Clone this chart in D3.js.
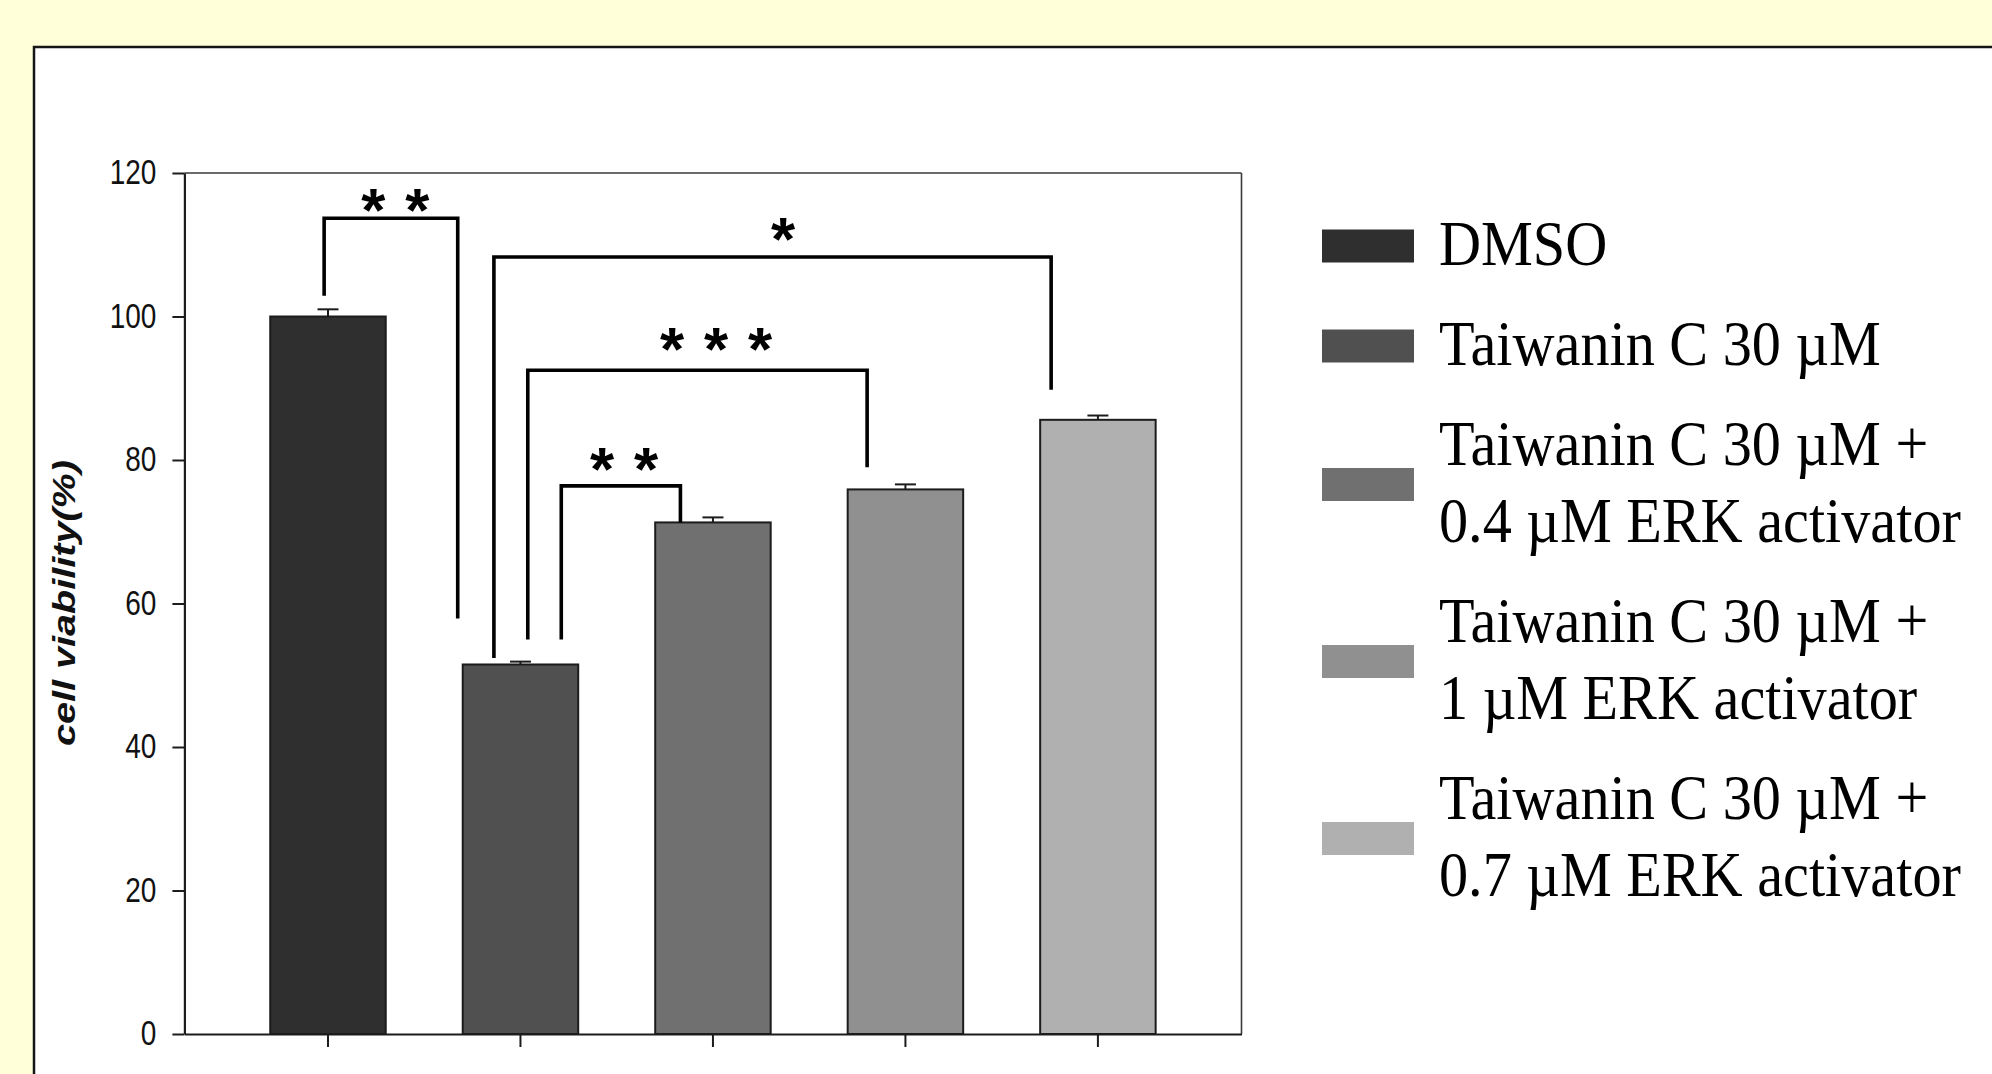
<!DOCTYPE html>
<html>
<head>
<meta charset="utf-8">
<script src="https://cdn.jsdelivr.net/npm/d3@7"></script>
<style>
  body { margin: 0; background: #ffffda; }
  svg { display: block; }
</style>
</head>
<body>
<div id="chart"></div>
<script>

// data
var groups = ["DMSO", "TC30", "TC30+ERK0.4", "TC30+ERK1", "TC30+ERK0.7"];
var viability = [100, 51.5, 71.3, 75.9, 85.6];
var errors = [1.0, 0.4, 0.7, 0.7, 0.6];
var yTicks = [0, 20, 40, 60, 80, 100, 120];

var legendLines = [
    ["DMSO"],
    ["Taiwanin C 30 µM"],
    ["Taiwanin C 30 µM +", "0.4 µM ERK activator"],
    ["Taiwanin C 30 µM +", "1 µM ERK activator"],
    ["Taiwanin C 30 µM +", "0.7 µM ERK activator"]
];

// significance brackets, x in category units (0 = first bar centre), y in % viability
var bracketFrom = [-0.02, 0.862, 1.038, 1.212];
var bracketTo = [0.674, 3.757, 2.801, 1.831];
var bracketTop = [113.7, 108.3, 92.5, 76.4];
var bracketFromEnd = [102.9, 52.4, 55.0, 55.0];
var bracketToEnd = [57.9, 89.8, 79.0, 71.3];
var bracketStars = [2, 1, 3, 2];
var starAt = [0.35, 2.364, 2.016, 1.538];
var starLevel = [116.0, 112.0, 96.7, 80.0];

var width = 1992, height = 1074;
var plot = { left: 184.4, right: 1241.5, top: 173, bottom: 1034 };

var svg = d3.select("#chart").append("svg")
    .attr("width", width)
    .attr("height", height);

// shrink text horizontally, the figure is squeezed
function squeeze(sel, k) {
    sel.each(function() {
        var w = this.getComputedTextLength();
        d3.select(this).attr("textLength", w * k).attr("lengthAdjust", "spacingAndGlyphs");
    });
}

// white panel with its left and top border
svg.append("rect")
    .attr("x", 34)
    .attr("y", 47)
    .attr("width", width)
    .attr("height", height)
    .attr("fill", "#ffffff")
    .attr("stroke", "#151515")
    .attr("stroke-width", 2.5);

// scales
var x = d3.scaleBand()
    .domain(groups)
    .range([plot.left, plot.right])
    .paddingInner(0.4)
    .paddingOuter(0.446);

var y = d3.scaleLinear()
    .domain([0, 120])
    .range([plot.bottom, plot.top]);

var color = d3.scaleOrdinal()
    .domain(groups)
    .range(["#2f2f2f", "#505050", "#707070", "#909090", "#b0b0b0"]);

var bw = x.bandwidth();
var xc = d3.scaleLinear()
    .domain([0, groups.length - 1])
    .range([x(groups[0]) + bw / 2, x(groups[groups.length - 1]) + bw / 2]);

// top and right frame of the plot
svg.append("line")
    .attr("x1", plot.left).attr("x2", plot.right)
    .attr("y1", y(120)).attr("y2", y(120))
    .attr("stroke", "#3a3a3a").attr("stroke-width", 1.6);
svg.append("line")
    .attr("x1", plot.right).attr("x2", plot.right)
    .attr("y1", y(120)).attr("y2", y(0))
    .attr("stroke", "#3a3a3a").attr("stroke-width", 1.6);

// bars
var dataset = groups.map(function(g, i) {
    return { group: g, value: viability[i], err: errors[i] };
});

svg.selectAll(".bar")
    .data(dataset).enter().append("rect")
    .attr("class", "bar")
    .attr("x", function(d) { return x(d.group); })
    .attr("y", function(d) { return y(d.value); })
    .attr("width", bw)
    .attr("height", function(d) { return y(0) - y(d.value); })
    .attr("fill", function(d) { return color(d.group); })
    .attr("stroke", "#1c1c1c")
    .attr("stroke-width", 2);

// error bars (upper half only)
var errG = svg.selectAll(".err")
    .data(dataset).enter().append("g")
    .attr("class", "err")
    .attr("stroke", "#1c1c1c")
    .attr("stroke-width", 2);

errG.append("line")
    .attr("x1", function(d) { return x(d.group) + bw / 2; })
    .attr("x2", function(d) { return x(d.group) + bw / 2; })
    .attr("y1", function(d) { return y(d.value); })
    .attr("y2", function(d) { return y(d.value + d.err); });

errG.append("line")
    .attr("x1", function(d) { return x(d.group) + bw / 2 - 10.5; })
    .attr("x2", function(d) { return x(d.group) + bw / 2 + 10.5; })
    .attr("y1", function(d) { return y(d.value + d.err); })
    .attr("y2", function(d) { return y(d.value + d.err); });

// y axis
var yAxis = d3.axisLeft(y)
    .tickValues(yTicks)
    .tickSize(12)
    .tickSizeOuter(0)
    .tickPadding(16);

var gy = svg.append("g")
    .attr("transform", "translate(" + [plot.left, 0] + ")")
    .call(yAxis);

gy.select(".domain").attr("stroke", "#1c1c1c").attr("stroke-width", 2.2);
gy.selectAll(".tick line").attr("stroke", "#1c1c1c").attr("stroke-width", 2);
gy.selectAll(".tick text")
    .attr("font-family", "'Liberation Sans', Arial, sans-serif")
    .attr("font-size", 35)
    .attr("fill", "#111")
    .attr("dy", "0.3em")
    .call(squeeze, 0.8);

// x axis, ticks only
var xAxis = d3.axisBottom(x)
    .tickSize(13)
    .tickSizeOuter(0)
    .tickFormat("");

var gx = svg.append("g")
    .attr("transform", "translate(" + [0, plot.bottom] + ")")
    .call(xAxis);

gx.select(".domain").attr("stroke", "#1c1c1c").attr("stroke-width", 2.2);
gx.selectAll(".tick line").attr("stroke", "#1c1c1c").attr("stroke-width", 2);

// y axis label
svg.append("text")
    .attr("transform", "translate(" + [75, 603] + ") rotate(-90)")
    .attr("text-anchor", "middle")
    .attr("font-family", "'Liberation Sans', Arial, sans-serif")
    .attr("font-size", 31)
    .attr("font-weight", "bold")
    .attr("font-style", "italic")
    .attr("fill", "#111")
    .attr("textLength", 286)
    .attr("lengthAdjust", "spacingAndGlyphs")
    .text("cell viability(%)");

// significance brackets
var brackets = bracketFrom.map(function(f, i) {
    return {
        from: f, to: bracketTo[i], top: bracketTop[i],
        fromEnd: bracketFromEnd[i], toEnd: bracketToEnd[i],
        stars: bracketStars[i], starAt: starAt[i], starLevel: starLevel[i]
    };
});

svg.selectAll(".bracket")
    .data(brackets).enter().append("path")
    .attr("class", "bracket")
    .attr("fill", "none")
    .attr("stroke", "#000")
    .attr("stroke-width", 3.6)
    .attr("d", function(d) {
        return "M" + xc(d.from) + "," + y(d.fromEnd) +
            "V" + y(d.top) +
            "H" + xc(d.to) +
            "V" + y(d.toEnd);
    });

var starSize = 62, starGap = 44;
var starData = [];
brackets.forEach(function(b) {
    for (var k = 0; k < b.stars; k++) {
        starData.push({ x: xc(b.starAt) + (k - (b.stars - 1) / 2) * starGap, y: y(b.starLevel) });
    }
});

svg.selectAll(".star")
    .data(starData).enter().append("text")
    .attr("class", "star")
    .attr("x", function(d) { return d.x; })
    .attr("y", function(d) { return d.y + starSize * 0.48; })
    .attr("text-anchor", "middle")
    .attr("font-family", "'Liberation Sans', Arial, sans-serif")
    .attr("font-weight", "bold")
    .attr("font-size", starSize)
    .attr("fill", "#000")
    .text("*");

// legend, squeezed horizontally like the rest of the figure
var lineStep = 77, entryStep = 100;
var legend = svg.append("g")
    .attr("transform", "translate(1439,0) scale(0.91,1)")
    .attr("font-family", "'Liberation Serif', 'Times New Roman', serif")
    .attr("font-size", 64)
    .attr("fill", "#000");

var baseline = 265;
legendLines.forEach(function(lines, i) {
    var first = baseline;
    lines.forEach(function(t, j) {
        legend.append("text")
            .attr("x", 0)
            .attr("y", baseline + j * lineStep)
            .text(t);
    });
    var last = baseline + (lines.length - 1) * lineStep;
    legend.append("rect")
        .attr("x", (1322 - 1439) / 0.91)
        .attr("y", (first + last) / 2 - 19 - 16.5)
        .attr("width", 92 / 0.91)
        .attr("height", 33)
        .attr("fill", color(groups[i]));
    baseline = last + entryStep;
});

</script>
</body>
</html>
